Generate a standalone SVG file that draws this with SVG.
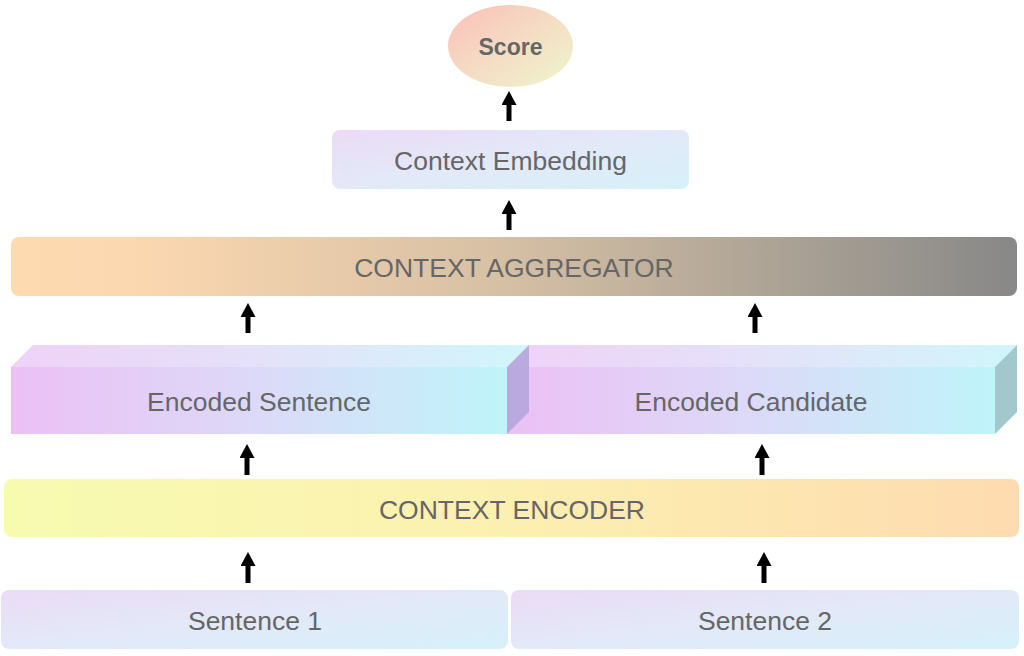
<svg xmlns="http://www.w3.org/2000/svg" width="1024" height="656" viewBox="0 0 1024 656">
<defs>
<style>
.t{font-family:"Liberation Sans",Arial,sans-serif;font-size:26.5px;fill:#666666;text-anchor:middle}
.b{font-weight:bold;font-size:23px}
.c{stroke:#000;stroke-width:5;fill:none;marker-end:url(#ah)}
</style>
<marker id="ah" viewBox="0 0 14 15" refX="0" refY="7.5" markerWidth="14" markerHeight="15" markerUnits="userSpaceOnUse" orient="auto">
<path d="M0,0 L14,7.5 L0,15 Z" fill="#000"/>
</marker>
<linearGradient id="gScore" x1="0" y1="0" x2="1" y2="1">
<stop offset="0" stop-color="#fbbfb8"/>
<stop offset="0.5" stop-color="#f5dcc4"/>
<stop offset="1" stop-color="#eef6cc"/>
</linearGradient>
<linearGradient id="gLav" x1="0" y1="0" x2="1" y2="1">
<stop offset="0" stop-color="#ebdbf5"/>
<stop offset="0.5" stop-color="#e3e9f8"/>
<stop offset="1" stop-color="#d5f1fa"/>
</linearGradient>
<linearGradient id="gAgg" x1="0" y1="0" x2="1" y2="0">
<stop offset="0" stop-color="#fddab0"/>
<stop offset="0.12" stop-color="#fcd8b0"/>
<stop offset="0.5" stop-color="#d5bfa4"/>
<stop offset="0.75" stop-color="#aea496"/>
<stop offset="1" stop-color="#888888"/>
</linearGradient>
<linearGradient id="gEnc" x1="0" y1="0" x2="1" y2="0">
<stop offset="0" stop-color="#f7fbb0"/>
<stop offset="0.5" stop-color="#fcf0b0"/>
<stop offset="1" stop-color="#fedbb0"/>
</linearGradient>
<linearGradient id="gFront" x1="0" y1="0" x2="1" y2="0">
<stop offset="0" stop-color="#ecc0f5"/>
<stop offset="0.5" stop-color="#dcdaf8"/>
<stop offset="1" stop-color="#bff4fa"/>
</linearGradient>
<linearGradient id="gTop" x1="0" y1="0" x2="1" y2="0">
<stop offset="0" stop-color="#efd2f8"/>
<stop offset="0.5" stop-color="#e4e2f9"/>
<stop offset="1" stop-color="#d0f6fb"/>
</linearGradient>
</defs>
<rect width="1024" height="656" fill="#ffffff"/>

<g id="score">
<ellipse cx="510.5" cy="46" rx="62.5" ry="41" fill="url(#gScore)"/>
<text class="t b" x="510.5" y="55">Score</text>
</g>

<g id="context-embedding">
<rect x="332" y="130" width="357" height="59" rx="8" fill="url(#gLav)"/>
<text class="t" x="510.5" y="170">Context Embedding</text>
</g>

<g id="context-aggregator">
<rect x="11" y="237" width="1006" height="59" rx="8" fill="url(#gAgg)"/>
<text class="t" x="514" y="277">CONTEXT AGGREGATOR</text>
</g>

<g id="encoded-candidate">
<polygon points="507,367 529,345 1017,345 995,367" fill="url(#gTop)"/>
<rect x="507" y="367" width="488" height="67" fill="url(#gFront)"/>
<polygon points="995,367 1017,345 1017,412 995,434" fill="#a2c7cd"/>
<text class="t" x="751" y="411">Encoded Candidate</text>
</g>

<g id="encoded-sentence">
<polygon points="11,367 33,345 529,345 507,367" fill="url(#gTop)"/>
<rect x="11" y="367" width="496" height="67" fill="url(#gFront)"/>
<polygon points="507,367 529,345 529,412 507,434" fill="#b4a6dc" fill-opacity="0.9"/>
<text class="t" x="259" y="411">Encoded Sentence</text>
</g>

<g id="context-encoder">
<rect x="4" y="479" width="1015" height="58" rx="8" fill="url(#gEnc)"/>
<text class="t" x="512" y="519">CONTEXT ENCODER</text>
</g>

<g id="sentence-1">
<rect x="1" y="590" width="507" height="59" rx="8" fill="url(#gLav)"/>
<text class="t" x="255" y="630">Sentence 1</text>
</g>

<g id="sentence-2">
<rect x="511" y="590" width="508" height="59" rx="8" fill="url(#gLav)"/>
<text class="t" x="765" y="630">Sentence 2</text>
</g>

<g id="connectors">
<line class="c" x1="509" y1="121" x2="509" y2="105"/>
<line class="c" x1="509" y1="230" x2="509" y2="214"/>
<line class="c" x1="248" y1="333" x2="248" y2="317"/>
<line class="c" x1="755" y1="333" x2="755" y2="317"/>
<line class="c" x1="247" y1="475" x2="247" y2="458"/>
<line class="c" x1="762" y1="475" x2="762" y2="458"/>
<line class="c" x1="248" y1="583" x2="248" y2="566"/>
<line class="c" x1="764" y1="583" x2="764" y2="566"/>
</g>
</svg>
